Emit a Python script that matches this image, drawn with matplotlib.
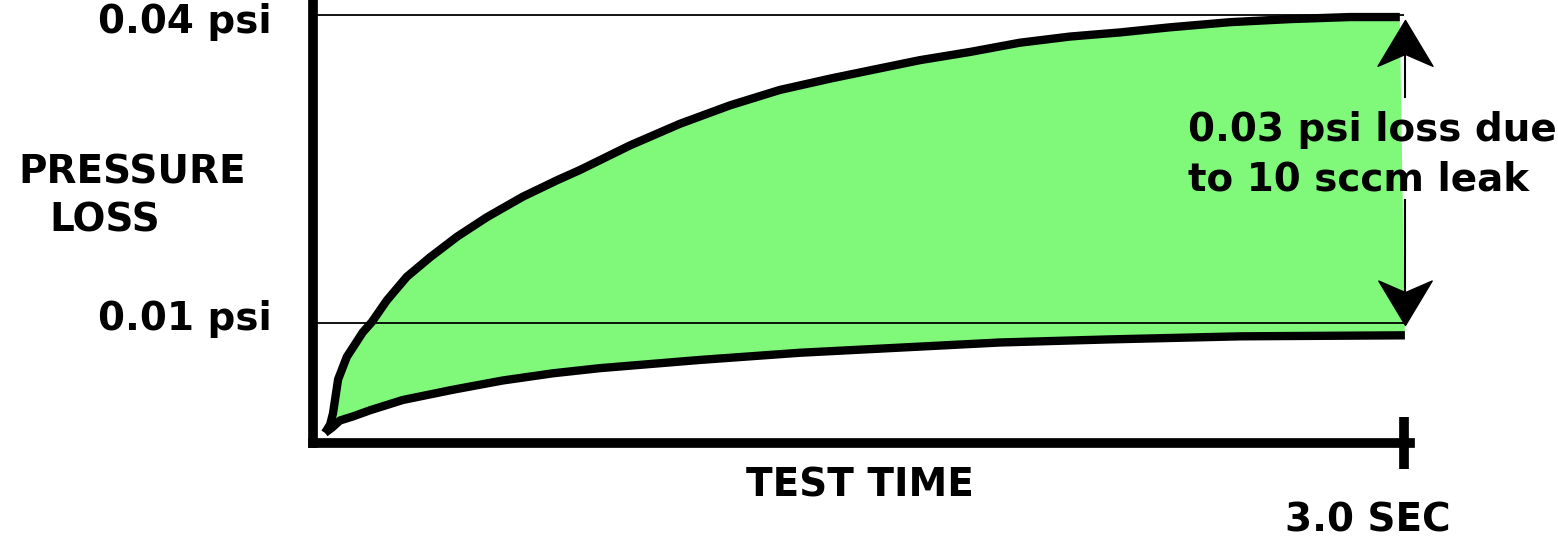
import numpy as np
import matplotlib
matplotlib.use('Agg')
import matplotlib.pyplot as plt
from matplotlib.path import Path

# pressure loss curves (time in sec, pressure in psi)
upper_t = [0.033, 0.047, 0.055, 0.069, 0.093, 0.137, 0.162, 0.203, 0.258, 0.322, 0.396,
           0.478, 0.577, 0.671, 0.734, 0.872, 1.009, 1.147, 1.284, 1.422, 1.545, 1.669,
           1.807, 1.944, 2.082, 2.219, 2.357, 2.522, 2.687, 2.852, 2.989]
upper_p = [-0.0007, 0.0001, 0.0012, 0.0045, 0.0067, 0.0091, 0.0101, 0.0122, 0.0145, 0.0164, 0.0184,
           0.0203, 0.0223, 0.0239, 0.0249, 0.0273, 0.0294, 0.0312, 0.0327, 0.0338, 0.0347, 0.0356,
           0.0364, 0.0373, 0.0379, 0.0383, 0.0388, 0.0393, 0.0396, 0.0398, 0.0398]

lower_t = [0.033, 0.052, 0.074, 0.110, 0.157, 0.247, 0.385, 0.522, 0.660, 0.789,
           1.064, 1.339, 1.614, 1.889, 2.189, 2.552, 3.003]
lower_p = [-0.0007, -0.0002, 0.0005, 0.0009, 0.0015, 0.0025, 0.0035, 0.0044, 0.0051, 0.0056,
           0.0064, 0.0071, 0.0076, 0.0081, 0.0084, 0.0087, 0.0088]

levels = [0.04, 0.01]
level_labels = ['0.04 psi', '0.01 psi']
end_time = 3.0
end_label = '3.0 SEC'
note_lines = ['0.03 psi loss due', 'to 10 sccm leak']

green = '#80f97a'
font = dict(family='DejaVu Sans', weight='bold', size=28, color='black')

fig = plt.figure(figsize=(15.58, 5.52), dpi=100)
ax = fig.add_axes([0.2009, 0.19746, 0.7041, 0.80254])
ax.set_xlim(0, 3.017)
ax.set_ylim(-0.00169, 0.04146)

# green area between the two curves
poly_t = np.concatenate([upper_t, lower_t[::-1]])
poly_p = np.concatenate([upper_p, lower_p[::-1]])
ax.fill(poly_t, poly_p, color=green, lw=0, zorder=1)

# reference levels
ax.hlines(levels, 0, end_time, colors='black', lw=1.3, zorder=2)

ax.plot(upper_t, upper_p, color='black', lw=6, solid_capstyle='butt', solid_joinstyle='round', zorder=3)
ax.plot(lower_t, lower_p, color='black', lw=6, solid_capstyle='butt', solid_joinstyle='round', zorder=3)

# double arrow for the 0.03 psi difference, broken where the note sits
head_up = Path([(0, 0), (0.6, -1.0), (0, -0.74), (-0.6, -1.0), (0, 0)],
               [Path.MOVETO, Path.LINETO, Path.LINETO, Path.LINETO, Path.CLOSEPOLY])
head_down = Path([(0, 0), (0.6, 1.0), (0, 0.74), (-0.6, 1.0), (0, 0)],
                 [Path.MOVETO, Path.LINETO, Path.LINETO, Path.LINETO, Path.CLOSEPOLY])
tip_top = levels[0] - 0.0005
tip_bot = levels[1] - 0.0002
arrow_x = end_time + 0.003
ax.plot([arrow_x, arrow_x], [0.0320, tip_top - 0.003], color='black', lw=1.5, zorder=4, clip_on=False)
ax.plot([arrow_x, arrow_x], [0.0220, tip_bot + 0.003], color='black', lw=1.5, zorder=4, clip_on=False)
ax.plot([arrow_x], [tip_top], marker=head_up, ms=66, color='black', lw=0, zorder=4, clip_on=False)
ax.plot([arrow_x], [tip_bot], marker=head_down, ms=64, color='black', lw=0, zorder=4, clip_on=False)

# axes: thick left and bottom lines, one tick at 3.0 sec
for side in ['top', 'right']:
    ax.spines[side].set_visible(False)
for side in ['left', 'bottom']:
    ax.spines[side].set_linewidth(7)
ax.set_yticks([])
ax.set_xticks([end_time])
ax.set_xticklabels([''])
ax.tick_params(axis='x', direction='inout', length=38, width=7, color='black')
ax.patch.set_alpha(0)

# texts
fig.text(0.1746, 0.9402, level_labels[0], ha='right', va='baseline', **font)
fig.text(0.1746, 0.4022, level_labels[1], ha='right', va='baseline', **font)
fig.text(0.0847, 0.6667, 'PRESSURE', ha='center', va='baseline', **font)
fig.text(0.0674, 0.5815, 'LOSS', ha='center', va='baseline', **font)
fig.text(0.552, 0.1014, 'TEST TIME', ha='center', va='baseline', **font)
fig.text(0.878, 0.0380, end_label, ha='center', va='baseline', **font)
fig.text(0.7625, 0.7446, note_lines[0], ha='left', va='baseline', **font)
fig.text(0.7625, 0.6540, note_lines[1], ha='left', va='baseline', **font)

plt.savefig('out.png', dpi=100)
